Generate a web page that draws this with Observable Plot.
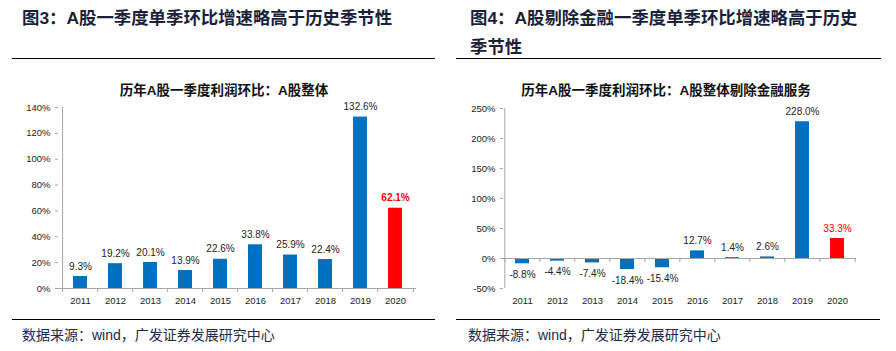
<!DOCTYPE html>
<html><head><meta charset="utf-8">
<script src="https://cdn.jsdelivr.net/npm/d3@7"></script>
<script src="https://cdn.jsdelivr.net/npm/@observablehq/plot@0.6"></script>
<style>
body{margin:0;background:#fff;}
#root{position:relative;width:896px;height:351px;overflow:hidden;font-family:"Noto Sans CJK SC",sans-serif;background:#fff;}
.t{position:absolute;font-weight:bold;font-size:17.4px;line-height:28px;color:#1b1f3b;white-space:nowrap;}
.lat{font-family:"Liberation Sans",Arial,sans-serif;}
.rule{position:absolute;height:1.5px;background:#000;}
.sub{position:absolute;text-align:center;font-size:13.5px;font-weight:bold;color:#111;white-space:nowrap;line-height:16px;}
.src{position:absolute;font-size:14px;color:#23294a;white-space:nowrap;line-height:18px;}
.chart{position:absolute;top:95px;}
.chart svg{overflow:visible;}
</style></head>
<body>
<div id="root">
  <div class="t" style="left:22px;top:3px;">图<span class="lat">3</span>：<span class="lat">A</span>股一季度单季环比增速略高于历史季节性</div>
  <div class="t" style="left:470px;top:3px;">图<span class="lat">4</span>：<span class="lat">A</span>股剔除金融一季度单季环比增速略高于历史<br>季节性</div>
  <div class="rule" style="left:12px;width:423px;top:57.5px;"></div>
  <div class="rule" style="left:456px;width:425px;top:57.5px;"></div>
  <div class="sub" style="left:0px;width:448px;top:81px;">历年<span class="lat">A</span>股一季度利润环比：<span class="lat">A</span>股整体</div>
  <div class="sub" style="left:448px;width:436px;top:81px;">历年<span class="lat">A</span>股一季度利润环比：<span class="lat">A</span>股整体剔除金融服务</div>
  <div id="c1" class="chart" style="left:0px;"></div>
  <div id="c2" class="chart" style="left:448px;"></div>
  <div class="rule" style="left:12px;width:423px;top:318.5px;"></div>
  <div class="rule" style="left:456px;width:424px;top:318.5px;"></div>
  <div class="src" style="left:22px;top:325px;">数据来源：<span class="lat">wind</span>，广发证券发展研究中心</div>
  <div class="src" style="left:468px;top:325px;">数据来源：<span class="lat">wind</span>，广发证券发展研究中心</div>
</div>
<script>
const years = ["2011","2012","2013","2014","2015","2016","2017","2018","2019","2020"];
const totalValues = [9.3, 19.2, 20.1, 13.9, 22.6, 33.8, 25.9, 22.4, 132.6, 62.1];
const exFinValues = [-8.8, -4.4, -7.4, -18.4, -15.4, 12.7, 1.4, 2.6, 228.0, 33.3];
const leftTicks = [0, 20, 40, 60, 80, 100, 120, 140];
const rightTicks = [-50, 0, 50, 100, 150, 200, 250];
const highlightYear = "2020";

const blue = "#0070C0", red = "#FF0000", axisGrey = "#a6a6a6", textCol = "#222";
const fmt = v => v.toFixed(1) + "%";

function makeChart({values, yDomain, yTicks, width, height, ml, mr, mt, mb, hlBold}) {
  const data = years.map((year, i) => ({year, value: values[i]}));
  const step = (width - ml - mr) / years.length;
  const normal = data.filter(d => d.year !== highlightYear);
  const hi = data.filter(d => d.year === highlightYear);
  const txt = (arr, dy, fill, weight) => Plot.text(arr, {
    x: "year", y: "value", text: d => fmt(d.value), dy, fill,
    fontSize: 10, fontWeight: weight, textAnchor: "middle", lineAnchor: "middle"
  });
  return Plot.plot({
    width, height, marginLeft: ml, marginRight: mr, marginTop: mt, marginBottom: mb,
    x: {domain: years, paddingInner: 0.6, paddingOuter: 0.3, label: null},
    y: {domain: yDomain, label: null},
    style: {fontFamily: "Liberation Sans, Arial, sans-serif", background: "transparent", overflow: "visible"},
    marks: [
      Plot.barY(normal, {x: "year", y: "value", fill: blue}),
      Plot.barY(hi, {x: "year", y: "value", fill: red}),
      Plot.ruleY([0], {stroke: axisGrey}),
      Plot.ruleX([years[0]], {y1: yDomain[0], y2: yDomain[1], dx: -step / 2, stroke: axisGrey}),
      Plot.ruleX(years, {y1: 0, y2: 0, insetBottom: -4, dx: -step / 2, stroke: axisGrey}),
      Plot.ruleX([years[years.length - 1]], {y1: 0, y2: 0, insetBottom: -4, dx: step / 2, stroke: axisGrey}),
      Plot.axisY({ticks: yTicks, tickFormat: d => d + "%", tickSize: 3, tickPadding: 5, fontSize: 9.5, stroke: axisGrey, fill: textCol, label: null}),
      Plot.axisX({tickSize: 0, tickPadding: 9, fontSize: 9.5, fill: textCol, label: null}),
      txt(normal.filter(d => d.value >= 0), -10, textCol, "normal"),
      txt(normal.filter(d => d.value < 0), 11, textCol, "normal"),
      txt(hi.filter(d => d.value >= 0), -10, red, hlBold ? "bold" : "normal"),
      txt(hi.filter(d => d.value < 0), 11, red, hlBold ? "bold" : "normal")
    ]
  });
}

document.getElementById("c1").appendChild(makeChart({
  values: totalValues, yDomain: [0, 140], yTicks: leftTicks,
  width: 448, height: 220, ml: 58, mr: 32, mt: 12, mb: 27, hlBold: true
}));
document.getElementById("c2").appendChild(makeChart({
  values: exFinValues, yDomain: [-50, 250], yTicks: rightTicks,
  width: 448, height: 220, ml: 55, mr: 40, mt: 13, mb: 27, hlBold: false
}));
</script>
</body></html>
